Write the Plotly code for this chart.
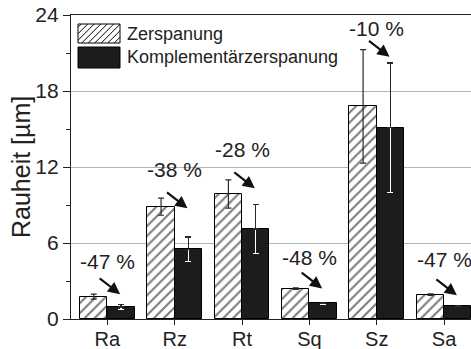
import plotly.graph_objects as go

# Roughness parameters and mean values (µm) with standard deviations
categories = ["Ra", "Rz", "Rt", "Sq", "Sz", "Sa"]
zerspanung = [1.77, 8.87, 9.87, 2.40, 16.79, 1.93]
zerspanung_err = [0.20, 0.68, 1.12, 0.06, 4.48, 0.06]
komplementaer = [0.94, 5.50, 7.11, 1.25, 15.11, 1.02]
komplementaer_err = [0.18, 0.98, 1.94, 0.08, 5.10, 0.06]
change_pct = [-47, -38, -28, -48, -10, -47]

# Where the change labels and their arrow tips sit (data units)
label_y = [4.57, 11.77, 13.36, 4.85, 22.94, 4.73]
tip_y = [1.96, 8.74, 10.32, 2.41, 20.70, 1.87]

FONT = "Arial"
INK = "#222222"
ERR = "#2a2a2a"
BAR_W = 0.405
x_idx = list(range(len(categories)))

fig = go.Figure()

# Conventional machining: hatched bars
fig.add_bar(
    x=x_idx, y=zerspanung, width=BAR_W, offset=-BAR_W,
    marker=dict(color="white", line=dict(color="black", width=1),
                pattern=dict(shape="/", fgcolor="black", bgcolor="white",
                             size=7, solidity=0.3)),
    error_y=dict(type="data", array=zerspanung_err, color=ERR,
                 thickness=1.2, width=3),
    showlegend=False,
)

# Complementary machining: solid dark bars
fig.add_bar(
    x=x_idx, y=komplementaer, width=BAR_W, offset=0,
    marker=dict(color="#1c1c1c", line=dict(color="black", width=1)),
    showlegend=False,
)
# lower half of the error bar (white, inside the dark bar)
fig.add_bar(
    x=x_idx, y=komplementaer, width=BAR_W, offset=0,
    marker=dict(color="rgba(0,0,0,0)", line=dict(width=0)),
    error_y=dict(type="data", symmetric=False,
                 array=[0] * len(komplementaer), arrayminus=komplementaer_err,
                 color="white", thickness=1.2, width=3),
    showlegend=False, hoverinfo="skip",
)
# upper half of the error bar (dark, above the bar)
fig.add_bar(
    x=x_idx, y=komplementaer, width=BAR_W, offset=0,
    marker=dict(color="rgba(0,0,0,0)", line=dict(width=0)),
    error_y=dict(type="data", symmetric=False,
                 array=komplementaer_err, arrayminus=[0] * len(komplementaer),
                 color=ERR, thickness=1.2, width=3),
    showlegend=False, hoverinfo="skip",
)

annotations = []
for i, pct in enumerate(change_pct):
    annotations.append(dict(
        x=i, y=label_y[i], xref="x", yref="y", text=f"{pct} %",
        showarrow=False, font=dict(family=FONT, size=21, color=INK),
        xanchor="center", yanchor="middle",
    ))
    annotations.append(dict(
        x=i + 0.19, y=tip_y[i], xref="x", yref="y", text="",
        showarrow=True, ax=-22, ay=-17, axref="pixel", ayref="pixel",
        arrowhead=2, arrowsize=1.1, arrowwidth=2.2, arrowcolor="#111111",
    ))

# Y-axis title
annotations.append(dict(
    x=-0.125, y=0.5, xref="paper", yref="paper", text="Rauheit [µm]",
    textangle=-90, showarrow=False, xanchor="center", yanchor="middle",
    font=dict(family=FONT, size=25, color=INK),
))

# Legend drawn by hand so the swatches can be large
L, T, PW, PH = 71, 15, 400, 304


def px_x(p):
    return (p - L) / PW


def px_y(p):
    return (T + PH - p) / PH


box_x0, box_x1 = 78, 120
hatch_y0, hatch_y1 = 24, 43
solid_y0, solid_y1 = 47, 68

shapes = [
    dict(type="rect", xref="paper", yref="paper",
         x0=px_x(box_x0), x1=px_x(box_x1), y0=px_y(hatch_y1), y1=px_y(hatch_y0),
         fillcolor="white", line=dict(color="black", width=1)),
    dict(type="rect", xref="paper", yref="paper",
         x0=px_x(box_x0), x1=px_x(box_x1), y0=px_y(solid_y1), y1=px_y(solid_y0),
         fillcolor="#1c1c1c", line=dict(color="black", width=1)),
]

# diagonal hatch lines inside the legend swatch (x + y = k in screen pixels)
segs = []
step = 6.5
k = box_x0 + hatch_y0 + step / 2
while k < box_x1 + hatch_y1:
    xa = max(box_x0, k - hatch_y1)
    xb = min(box_x1, k - hatch_y0)
    if xb > xa:
        segs.append(f"M{px_x(xa):.5f},{px_y(k - xa):.5f}L{px_x(xb):.5f},{px_y(k - xb):.5f}")
    k += step
shapes.append(dict(type="path", xref="paper", yref="paper", path="".join(segs),
                   line=dict(color="black", width=1)))

for label, cy in (("Zerspanung", 34), ("Komplementärzerspanung", 57.5)):
    annotations.append(dict(
        x=px_x(125), y=px_y(cy), xref="paper", yref="paper", text=label,
        showarrow=False, xanchor="left", yanchor="middle",
        font=dict(family=FONT, size=18, color=INK),
    ))

fig.update_layout(
    width=471, height=349,
    margin=dict(l=L, r=0, t=T, b=349 - T - PH, autoexpand=False),
    paper_bgcolor="white", plot_bgcolor="white",
    barmode="overlay", bargap=0,
    font=dict(family=FONT, size=21, color=INK),
    annotations=annotations, shapes=shapes,
    xaxis=dict(
        range=[-0.54, 5.40], tickvals=x_idx, ticktext=categories,
        showline=True, linecolor=INK, linewidth=1.3, mirror=True,
        ticks="outside", ticklen=5, tickwidth=1.2, tickcolor=INK,
        showgrid=False, zeroline=False, ticklabelstandoff=-3,
        tickfont=dict(family=FONT, size=20, color=INK),
    ),
    yaxis=dict(
        range=[0, 24], tickvals=[0, 6, 12, 18, 24],
        showline=True, linecolor=INK, linewidth=1.3,
        ticks="outside", ticklen=7, tickwidth=1.2, tickcolor=INK,
        minor=dict(tickvals=[3, 9, 15, 21], ticks="outside", ticklen=4,
                   tickwidth=1.2, tickcolor=INK, showgrid=False),
        showgrid=True, gridcolor="#b4b4b4", gridwidth=1, zeroline=False,
        tickfont=dict(family=FONT, size=21, color=INK),
    ),
)

fig.write_html("out.html")
